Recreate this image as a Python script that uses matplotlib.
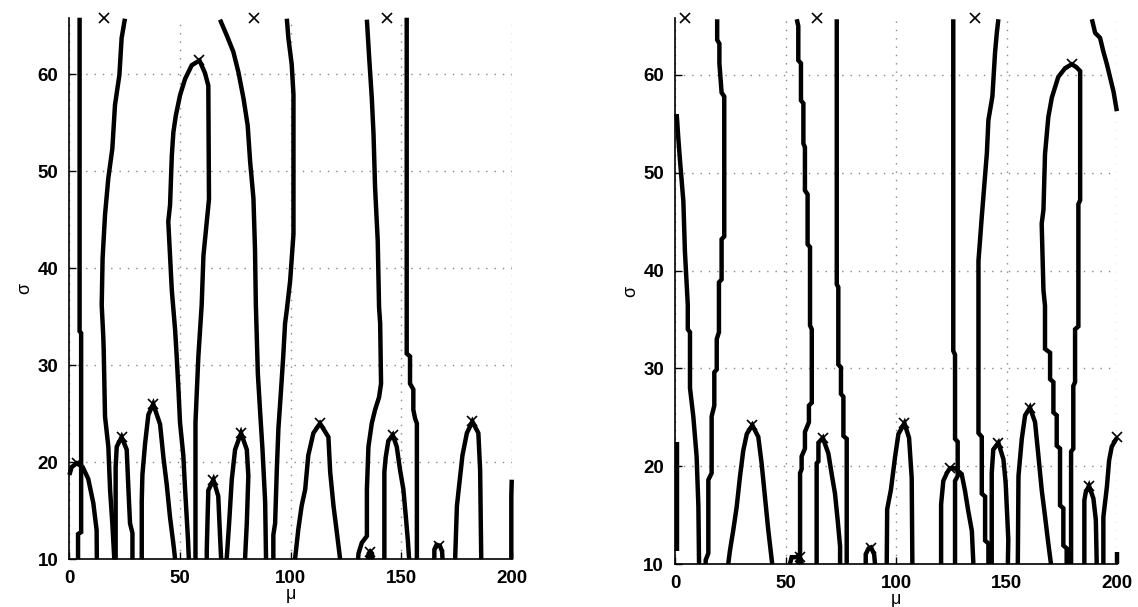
import numpy as np
import matplotlib
matplotlib.use('Agg')
from matplotlib import pyplot as plt

plt.rcParams['font.family'] = ['Liberation Sans', 'DejaVu Sans']

# ---- left panel: contour curves as (mu, sigma) points ----
left_a = [(4.6, 65.8), (4.6, 33.5), (5.3, 33.3), (5.3, 12.8), (3.9, 12.6), (3.9, 10)]
left_b = [(0, 18.7), (1, 19.5), (3.3, 19.9), (6, 19.5), (8.5, 18.3), (10.8, 15.8),
          (12.3, 13), (12.4, 10)]
left_c = [(25.1, 65.7), (23.6, 63.7), (22.6, 59.9), (20.6, 56.8), (19.4, 52.3),
          (17.6, 49.3), (16.1, 45.5), (15.0, 41), (14.6, 36.2), (15.3, 33),
          (15.5, 31.6), (16.1, 24.7), (17.6, 21.6), (18.4, 17.1), (19.4, 13.7), (20.3, 10)]
left_bump23 = [(20.9, 10), (20.9, 19.5), (21.4, 21.6), (23.6, 22.6), (25.9, 21.3),
               (26.7, 17.1), (27.4, 13.7), (28.5, 12.7), (28.5, 10)]
left_bump38 = [(32.7, 10), (32.7, 16), (33, 18.7), (34.2, 21.9), (35.7, 24.9), (37.9, 26),
               (41, 23.9), (42.5, 20.5), (44, 17.7), (45.5, 14.3), (47, 11.6), (47.8, 10)]
left_arch = [(54, 10), (53.6, 12.1), (52.3, 17.2), (51.5, 20.7), (50, 24.1), (49.3, 27.5),
             (48.5, 30.9), (47.8, 33.6), (46.3, 37.7), (44.7, 44.8), (45.5, 46.5),
             (46.3, 51.6), (47, 54), (48.1, 55.7), (50, 57.8), (52.3, 59.5), (55.3, 60.9),
             (58.8, 61.4), (61.3, 60.1), (62.8, 58.8), (63.1, 47.1), (60.6, 41.3),
             (59.8, 36.2), (58.3, 30.9), (57, 24.1), (57, 10)]
left_bump65 = [(62.1, 10), (62.1, 11), (62.8, 17.1), (65.1, 18.2), (67.3, 16.5),
               (68.1, 12.4), (68.6, 10)]
left_bump78 = [(71.1, 10), (72.2, 13.7), (73.4, 18.2), (74.9, 21.3), (77.6, 23),
               (80.2, 21.3), (80.9, 18.6), (80.2, 13.7), (79.4, 10)]
left_e = [(68.1, 65.6), (71.1, 64), (74.1, 62.3), (76.4, 60.2), (78.7, 57.5), (80.6, 54.7),
          (81.7, 51), (83.2, 47.2), (83.9, 42), (84.3, 36.2), (85.2, 29.1), (86.2, 25.3),
          (87.3, 21.3), (88.5, 15.9), (88.9, 10)]
left_f = [(98.3, 65.7), (99, 63.7), (100.5, 61), (101.3, 57.9), (101.3, 43.5), (99.8, 38.7),
          (98.3, 35.7), (97.5, 34.3), (96.7, 31), (95.7, 27.5), (94.5, 23.5), (93.8, 19.4),
          (93, 13.7), (92.2, 12.5), (92.2, 10)]
left_bump113 = [(102, 10), (103.5, 13.1), (105, 15.5), (106.6, 17.2), (108, 20.7),
                (110.3, 23), (113.3, 24), (117.1, 22.6), (117.9, 19), (119.4, 15.5),
                (120.9, 12.8), (122.4, 10)]
left_g = [(134.5, 65.6), (135.5, 61.8), (136.7, 57.6), (137.5, 53.8), (138.2, 48.3),
          (139.4, 42.8), (140, 36), (140.5, 34.3), (140.9, 28.1), (140, 26.7), (138.2, 25.4),
          (136.7, 24), (135.2, 21.6), (134.5, 17.2), (134.5, 12.4), (132.2, 11.7),
          (130.7, 10.6), (130.5, 10)]
left_h = [(152.5, 65.8), (152.5, 31.2), (154, 30.9), (154, 28.1), (155.5, 27.5),
          (155.5, 25.4), (156.3, 24.5), (157.1, 24), (157.1, 10)]
left_small136 = [(135, 10), (135.3, 10.6), (136, 10.8), (136.8, 10.6), (137, 10)]
left_bump146 = [(142.4, 10), (142.4, 19), (143, 20.5), (144.2, 22.2), (146.2, 22.8),
                (148, 21.6), (149.5, 19.2), (151, 17.2), (152.1, 14.4), (153, 12), (153.6, 10)]
left_small166 = [(165, 10), (165, 11), (166, 11.5), (167.5, 11.4), (168.5, 10.8), (168.7, 10)]
left_bump182 = [(174.4, 10), (175.2, 15.5), (177.7, 20.7), (179.7, 23), (182.2, 24.2),
                (184.9, 23), (185.7, 19.2), (186.2, 10)]
left_edge = [(199.8, 10), (199.8, 16.5), (200, 18.2)]

left_peaks_mu = [3.3, 23.6, 37.9, 58.8, 65.1, 77.6, 113.3, 136, 146.2, 166.9, 182.2]
left_peaks_sig = [19.9, 22.6, 26, 61.4, 18.2, 23, 24, 10.7, 22.8, 11.4, 24.2]
left_top_mu = [15.6, 83.5, 143.5]

# ---- right panel ----
right_a = [(0.7, 56), (1.4, 53.6), (2.2, 51.2), (3.7, 47.1), (4.4, 42), (5.7, 36.5),
           (5.7, 34), (6.7, 33.7), (6.7, 28), (8.2, 25.1), (9.7, 21), (10.5, 15.9), (10.8, 10)]
right_seg = [(1.0, 11.3), (1.0, 22.5)]
right_b = [(19, 65.7), (19, 63.6), (20, 63.2), (20, 61.2), (21, 58.2), (22.2, 57.8),
           (22.2, 43.5), (21, 43.2), (21, 39.1), (19.8, 38.8), (19.8, 33.7), (18.8, 33),
           (18.8, 29.9), (17.7, 29.6), (17.7, 26.2), (16.5, 25.1), (16.5, 19.3), (15, 18.6),
           (15, 11.1), (13.8, 10.4), (13.8, 10)]
right_bump35 = [(24, 10), (24.8, 11.4), (26.3, 13.5), (27.8, 15.8), (29.3, 18.9),
                (30.8, 21.6), (32.4, 23.3), (34.9, 24.2), (37.6, 23), (39.1, 20.3),
                (40.6, 16.9), (42.1, 13.5), (43.9, 10)]
right_c = [(55, 65.7), (55.7, 65), (55.7, 61.5), (56.9, 61.2), (56.9, 57.4), (58, 57.1),
           (58, 53), (58.7, 52.6), (58.7, 48.2), (59.9, 47.8), (59.9, 42.7), (61, 42.4),
           (61, 34.4), (61.8, 34), (61.8, 26.5), (60.5, 26.2), (60.5, 24.5), (58.7, 23.5),
           (58.7, 21.8), (57.2, 21), (57.2, 19.7), (56.5, 19.3), (56.5, 11.1), (55, 10.7),
           (52.7, 10.7), (51.9, 10)]
right_small56 = [(55.5, 10), (56.4, 10.8), (57.3, 10)]
right_d = [(73.1, 65.7), (73.1, 38.6), (73.8, 38.3), (73.8, 30.4), (75, 30.1), (75, 27.4),
           (76.1, 27.1), (76.1, 23.1), (77.6, 22.8), (77.6, 10)]
right_bump67 = [(64, 10), (64, 20.3), (64.8, 20.5), (64.8, 22.4), (66.8, 22.9), (69.3, 21.3),
                (70.8, 19.2), (72.3, 17.2), (73.5, 14.5), (74.6, 11.8), (74.6, 10)]
right_small88 = [(86.2, 10), (86.2, 11), (87.5, 11.6), (88.6, 11.7), (90, 11), (90.4, 10)]
right_bump104 = [(95.7, 10), (95.9, 15.6), (97.6, 17.6), (99.5, 21), (101, 23.3),
                 (103.7, 24.4), (105.8, 22.9), (107, 18.8), (107.3, 10)]
right_e = [(125.8, 65.7), (125.8, 31.8), (126.6, 31.4), (126.6, 22.8), (127.8, 22.5),
           (127.8, 19), (126.6, 18.5), (126.6, 10)]
right_bump124 = [(120.3, 10), (120.3, 16.1), (121.3, 18.5), (122.9, 19.3), (124.3, 19.8),
                 (126.5, 19.8), (129.6, 19.2), (131.1, 17.5), (132.6, 15.4), (134.2, 13.4),
                 (134.9, 10)]
right_f = [(146.2, 65.7), (145.5, 64.3), (144.7, 62.3), (143.5, 57.8), (141.7, 55.4),
           (141, 52), (139.9, 48.9), (138.7, 45.5), (137.2, 41), (137.2, 23.4), (138.7, 23),
           (138.7, 17.2), (140.2, 16.9), (140.2, 12.4), (141.7, 12.1), (141.7, 10)]
right_bump146 = [(143.2, 10), (143.2, 19.3), (143.9, 21.7), (146.2, 22.4), (148.5, 20.7),
                 (149.5, 18.3), (150.7, 12.5), (150.5, 10)]
right_bump160 = [(155, 10), (155.3, 19), (156.8, 22.8), (158.3, 25.2), (160.5, 26),
                 (162.8, 24.5), (164.3, 21.1), (165.8, 17.6), (167.3, 14.9), (168.8, 12.1),
                 (170, 10)]
right_arch = [(177.1, 10), (177.1, 11.6), (175.6, 11.9), (175.6, 15.7), (174.1, 16),
              (174.1, 21.8), (172.6, 22.1), (172.6, 25.2), (171.1, 25.5), (171.1, 28.6),
              (169.6, 28.9), (169.6, 31.6), (167.3, 32), (167.3, 36.4), (166.6, 38),
              (165.8, 44.8), (166.6, 46.2), (167.3, 51.9), (168.8, 55.7), (170.4, 57.7),
              (173.3, 59.8), (176.4, 60.7), (179.4, 61.1), (181.5, 60.8), (183.2, 60.4),
              (183.2, 47.2), (182.4, 46.8), (182.4, 34.3), (180.9, 34), (180.9, 28.6),
              (180.1, 28.2), (180.1, 21.8), (179.1, 21.5), (179.1, 10)]
right_topright = [(188.5, 65.7), (190, 64.3), (192.2, 63.8), (193.7, 62.4), (195.3, 61.1),
                  (196.8, 59.7), (198.3, 58.3), (199.8, 56.3)]
right_bump187 = [(185.1, 10), (185.1, 16.5), (185.7, 17.3), (187.2, 18), (189.2, 16.7),
                 (190.3, 14.5), (190.7, 10)]
right_rise = [(193.7, 10), (193.7, 14.8), (195.3, 17.9), (196.3, 20.6), (197.5, 22),
              (199.8, 22.9)]
right_edge = [(199.8, 10), (199.8, 11.2)]

right_peaks_mu = [34.9, 56.4, 66.8, 88.6, 103.7, 124.3, 146.2, 160.5, 179.4, 187.2, 199.8]
right_peaks_sig = [24.2, 10.75, 22.9, 11.6, 24.4, 19.8, 22.4, 26, 61.1, 18, 23]
right_top_mu = [4.4, 64, 135.7]

SIG_TOP = 65.8

left_curves = [left_a, left_b, left_c, left_bump23, left_bump38, left_arch, left_bump65,
               left_bump78, left_e, left_f, left_bump113, left_g, left_h, left_small136,
               left_bump146, left_small166, left_bump182, left_edge]
right_curves = [right_a, right_seg, right_b, right_bump35, right_c, right_small56, right_d,
                right_bump67, right_small88, right_bump104, right_e, right_bump124, right_f,
                right_bump146, right_bump160, right_arch, right_topright, right_bump187,
                right_rise, right_edge]


def panel(ax, curves, peaks_mu, peaks_sig, top_mu):
    for c in curves:
        c = np.array(c)
        ax.plot(c[:, 0], c[:, 1], color='black', lw=3.2, solid_joinstyle='miter',
                solid_capstyle='butt', clip_on=False, zorder=3)
    ax.plot(peaks_mu, peaks_sig, 'x', color='black', ms=6.5, mew=1.2, zorder=4, clip_on=False)
    ax.plot(top_mu, [SIG_TOP] * len(top_mu), 'x', color='black', ms=6.5, mew=1.2,
            zorder=4, clip_on=False)
    ax.set_xlim(0, 200)
    ax.set_ylim(10, SIG_TOP)
    ax.set_xticks([0, 50, 100, 150, 200])
    ax.set_yticks([10, 20, 30, 40, 50, 60])
    ax.grid(True, linestyle=(0, (1, 5)), color='#888888', lw=1.0)
    for s in ['top', 'right']:
        ax.spines[s].set_visible(False)
    for s in ['left', 'bottom']:
        ax.spines[s].set_linewidth(1.2)
    ax.tick_params(direction='in', length=5, width=1, labelsize=13.5, pad=8)
    for lab in ax.get_xticklabels() + ax.get_yticklabels():
        lab.set_fontweight('bold')
    ax.set_xlabel('\u03bc', fontsize=13, labelpad=-1)
    ax.set_ylabel('\u03c3', fontsize=13, labelpad=3)


fig = plt.figure(figsize=(11.38, 6.07), dpi=100)
ax1 = fig.add_axes([0.061, 0.0786, 0.3887, 0.8922])
ax2 = fig.add_axes([0.5933, 0.0708, 0.3885, 0.8991])
panel(ax1, left_curves, left_peaks_mu, left_peaks_sig, left_top_mu)
panel(ax2, right_curves, right_peaks_mu, right_peaks_sig, right_top_mu)

fig.savefig('out.png', dpi=100)
